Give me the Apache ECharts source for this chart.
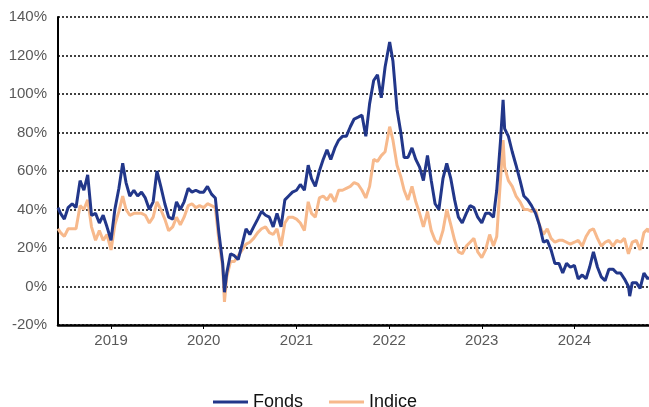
<!DOCTYPE html>
<html>
<head>
    <meta charset="utf-8">
    <title>Fonds vs Indice</title>
    <script src="https://cdn.jsdelivr.net/npm/echarts@6/dist/echarts.min.js"></script>
    <style>
        html, body { margin: 0; padding: 0; background: #fff; }
        #chart { width: 649px; height: 407px; }
    </style>
</head>
<body>
<div id="chart"></div>

<script>
    // dates (half-monthly, plus a few extra points at the extremes)
    const dates = [
        '2018-06-06','2018-06-16','2018-07-01','2018-07-16','2018-08-01','2018-08-16','2018-09-01','2018-09-16','2018-10-01','2018-10-16','2018-11-01','2018-11-16','2018-12-01','2018-12-16',
        '2019-01-01','2019-01-16','2019-02-01','2019-02-16','2019-03-01','2019-03-16','2019-04-01','2019-04-16','2019-05-01','2019-05-16','2019-06-01','2019-06-16','2019-07-01','2019-07-16','2019-08-01','2019-08-16','2019-09-01','2019-09-16','2019-10-01','2019-10-16','2019-11-01','2019-11-16','2019-12-01','2019-12-16',
        '2020-01-01','2020-01-16','2020-02-01','2020-02-16','2020-03-01','2020-03-16','2020-03-23','2020-04-01','2020-04-16','2020-05-01','2020-05-16','2020-06-01','2020-06-16','2020-07-01','2020-07-16','2020-08-01','2020-08-16','2020-09-01','2020-09-16','2020-10-01','2020-10-16','2020-11-01','2020-11-16','2020-12-01','2020-12-16',
        '2021-01-01','2021-01-16','2021-02-01','2021-02-16','2021-03-01','2021-03-16','2021-04-01','2021-04-16','2021-05-01','2021-05-16','2021-06-01','2021-06-16','2021-07-01','2021-07-16','2021-08-01','2021-08-16','2021-09-01','2021-09-16','2021-10-01','2021-10-16','2021-11-01','2021-11-16','2021-12-01','2021-12-16',
        '2022-01-03','2022-01-16','2022-02-01','2022-02-16','2022-03-01','2022-03-16','2022-04-01','2022-04-16','2022-05-01','2022-05-16','2022-06-01','2022-06-16','2022-07-01','2022-07-16','2022-08-01','2022-08-16','2022-09-01','2022-09-16','2022-10-01','2022-10-16','2022-11-01','2022-11-16','2022-12-01','2022-12-16',
        '2023-01-01','2023-01-16','2023-02-01','2023-02-16','2023-03-01','2023-03-16','2023-03-26','2023-04-01','2023-04-16','2023-05-01','2023-05-16','2023-06-01','2023-06-16','2023-07-01','2023-07-16','2023-08-01','2023-08-16','2023-09-01','2023-09-16','2023-10-01','2023-10-16','2023-11-01','2023-11-16','2023-12-01','2023-12-16',
        '2024-01-01','2024-01-16','2024-02-01','2024-02-16','2024-03-01','2024-03-16','2024-04-01','2024-04-16','2024-05-01','2024-05-16','2024-06-01','2024-06-16','2024-07-01','2024-07-16','2024-08-01','2024-08-06','2024-08-16','2024-09-01','2024-09-16','2024-10-01','2024-10-16','2024-10-21'
    ];

    // cumulative performance, %
    const fonds = [
        41, 38, 35, 41, 43, 41, 55, 50, 58, 37, 38, 33, 37, 31,
        24, 40, 51, 64, 54, 47, 50, 47, 49, 46, 40, 44, 60, 52, 43, 36, 35, 44, 40, 44, 51, 49, 50, 49,
        49, 52, 48, 46, 28, 12, -3, 7, 17, 16, 14, 22, 30, 27, 31, 35, 39, 37, 36, 31, 38, 31, 45, 47, 49,
        50, 53, 50, 63, 56, 52, 60, 66, 71, 66, 72, 76, 78, 78, 83, 87, 88, 89, 78, 95, 107, 110, 98, 114,
        127, 117, 92, 80, 67, 67, 72, 66, 62, 55, 68, 55, 43, 40, 56, 64, 56, 45, 36, 33, 38, 42, 41, 36,
        33, 38, 38, 36, 50, 76, 97, 82, 78, 70, 63, 55, 47, 45, 42, 38, 32, 23, 24, 19, 12, 12, 7, 12, 10,
        11, 4, 6, 4, 10, 18, 10, 5, 3, 9, 9, 7, 7, 4, 0, -5, 2, 2, -1, 7, 4, 5
    ];
    const indice = [
        30, 28, 26, 30, 30, 30, 42, 40, 45, 31, 24, 29, 24, 27,
        19, 32, 39, 47, 40, 37, 38, 38, 38, 37, 33, 36, 44, 40, 35, 29, 31, 36, 32, 36, 42, 43, 41, 42,
        41, 43, 42, 41, 24, 10, -8, 5, 13, 13, 16, 19, 22, 23, 25, 28, 30, 31, 28, 27, 30, 21, 33, 36, 36,
        35, 33, 29, 44, 38, 36, 46, 47, 45, 48, 44, 50, 50, 51, 52, 54, 53, 50, 46, 52, 66, 65, 68, 70,
        83, 76, 63, 57, 50, 45, 52, 44, 38, 31, 39, 29, 24, 22, 29, 40, 32, 24, 18, 17, 21, 23, 25, 18,
        15, 19, 27, 21, 26, 56, 76, 62, 55, 52, 47, 44, 40, 40, 39, 40, 32, 27, 30, 25, 23, 24, 24, 23, 22,
        23, 24, 21, 26, 29, 30, 25, 21, 23, 24, 21, 24, 23, 25, 17, 16, 23, 24, 19, 28, 30, 28
    ];

    if (fonds.length !== dates.length || indice.length !== dates.length) {
        throw new Error('length mismatch: ' + dates.length + ' ' + fonds.length + ' ' + indice.length);
    }

    const chart = echarts.init(document.getElementById('chart'), null, { renderer: 'canvas' });

    const font = '"Liberation Sans", Arial, sans-serif';

    chart.setOption({
        animation: false,
        backgroundColor: '#fff',
        grid: { left: 58, right: 0, top: 17, bottom: 82, containLabel: false },
        legend: {
            data: ['Fonds', 'Indice'],
            left: 208,
            top: 388,
            icon: 'rect',
            itemWidth: 35,
            itemHeight: 3,
            itemGap: 26,
            textStyle: { fontFamily: font, fontSize: 18, color: '#111' }
        },
        xAxis: {
            type: 'time',
            min: dates[0],
            max: dates[dates.length - 1],
            splitNumber: 7,
            axisLine: { show: true, onZero: false, lineStyle: { color: '#000', width: 2.5 } },
            axisTick: { show: true, length: 4, lineStyle: { color: '#000' } },
            axisLabel: {
                fontFamily: font,
                fontSize: 15,
                color: '#595959',
                margin: 8,
                formatter: function (val) {
                    const d = new Date(val);
                    return (d.getMonth() === 0 && d.getDate() === 1) ? String(d.getFullYear()) : '';
                }
            },
            splitLine: { show: false }
        },
        yAxis: {
            type: 'value',
            min: -20,
            max: 140,
            interval: 20,
            axisLine: { show: true, lineStyle: { color: '#000', width: 2 } },
            axisTick: { show: false },
            axisLabel: {
                fontFamily: font,
                fontSize: 15,
                color: '#595959',
                margin: 11,
                formatter: '{value}%'
            },
            splitLine: { show: true, lineStyle: { color: '#404040', width: 2, type: [2, 2] } }
        },
        series: [
            {
                name: 'Indice',
                type: 'line',
                showSymbol: false,
                data: dates.map((d, i) => [d, indice[i]]),
                lineStyle: { color: '#f7b98c', width: 3 },
                itemStyle: { color: '#f7b98c' }
            },
            {
                name: 'Fonds',
                type: 'line',
                showSymbol: false,
                data: dates.map((d, i) => [d, fonds[i]]),
                lineStyle: { color: '#22378a', width: 3 },
                itemStyle: { color: '#22378a' }
            }
        ]
    });
</script>
</body>
</html>
